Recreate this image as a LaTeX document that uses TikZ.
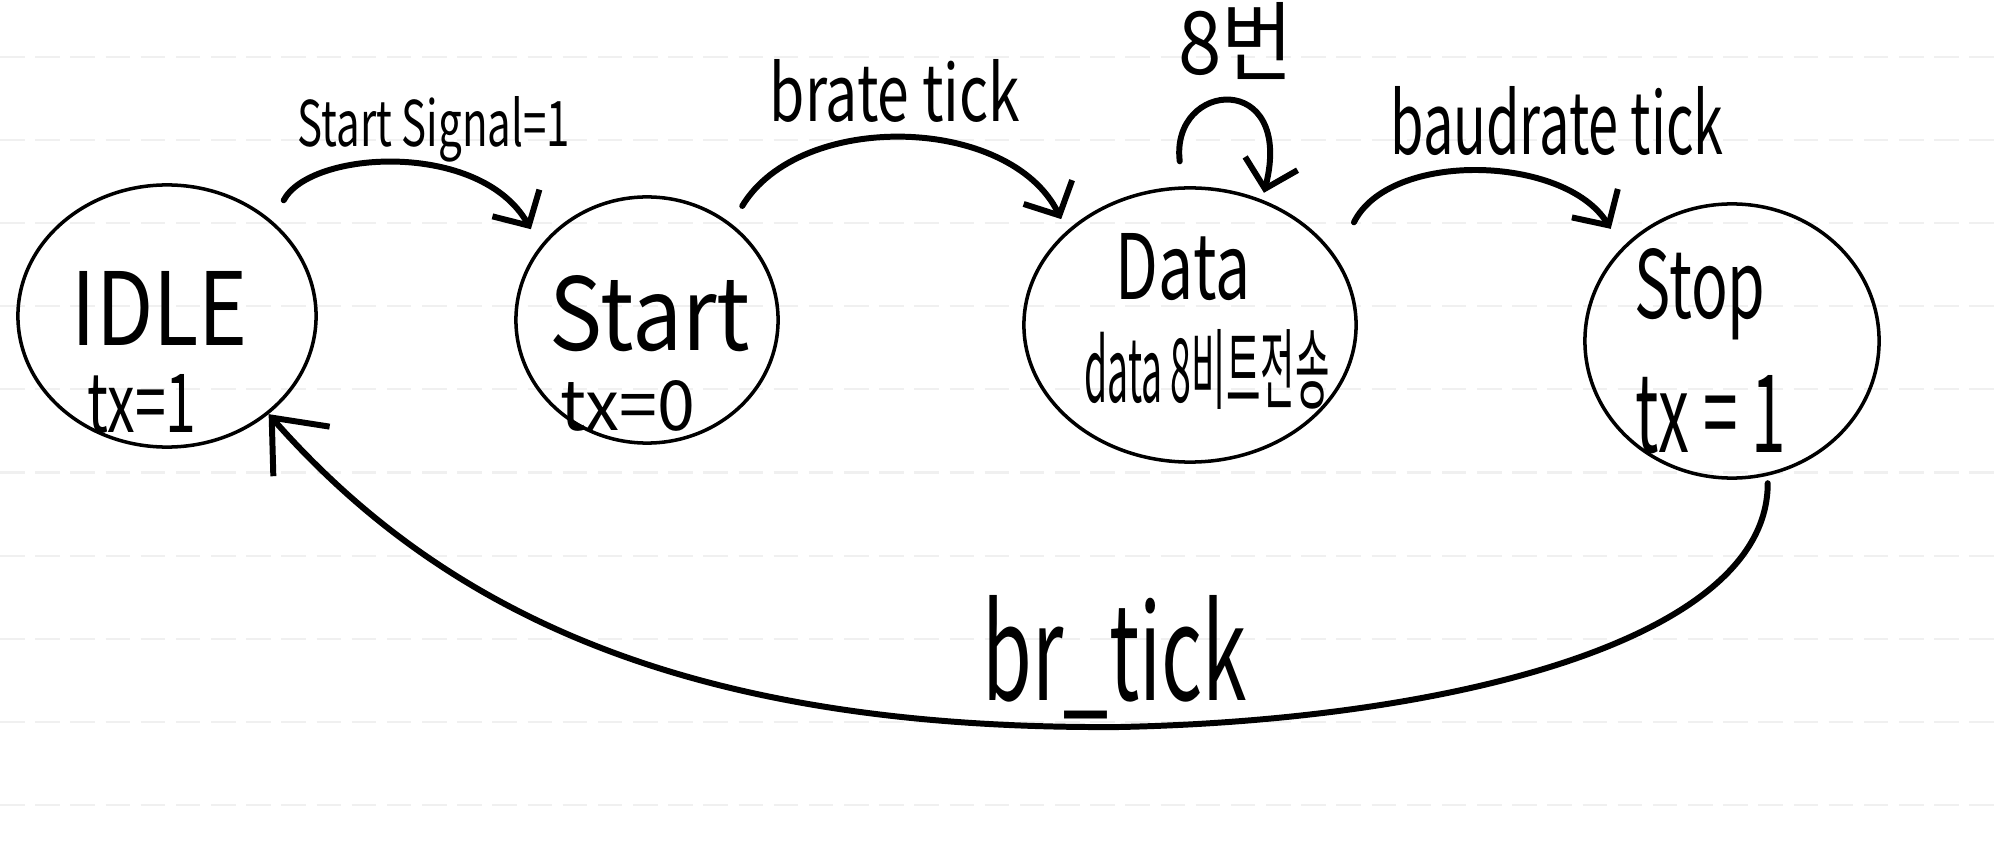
\documentclass[tikz,border=0pt]{standalone}
\usepackage{graphicx}
\usepackage{fontspec}
\setmainfont{Noto Sans CJK KR}
\usetikzlibrary{arrows.meta,shapes.geometric}
\newcommand\hw[3]{\resizebox{#1}{#2}{#3}}
\begin{document}
\begin{tikzpicture}[x=0.01cm,y=-0.01cm,
  state/.style={draw, ellipse, line width=1pt, inner sep=0pt},
  lbl/.style={inner sep=0pt, anchor=base},
  trans/.style={line width=1.7pt, line cap=round, -{Straight Barb[length=2.6mm,width=5.4mm]}},
  transbig/.style={line width=1.7pt, line cap=round, -{Straight Barb[length=4.5mm,width=7.5mm]}},
  paper/.style={gray!12, line width=0.6pt, dash pattern=on 7pt off 3pt}]
\useasboundingbox (0,0) rectangle (2000,861);
\foreach \k in {0,...,9} \draw[paper] (0,{57+83.1*\k}) -- (2000,{57+83.1*\k});

% states
\node[state, minimum width=2.98cm, minimum height=2.62cm] (idle) at (167,316) {};
\node[state, minimum width=2.62cm, minimum height=2.46cm] (start) at (647,320) {};
\node[state, minimum width=3.32cm, minimum height=2.74cm] (data) at (1190,325) {};
\node[state, minimum width=2.94cm, minimum height=2.74cm] (stop) at (1732,341) {};

% state texts
\node[lbl] (idleT) at (160,346) {\hw{1.76cm}{0.74cm}{IDLE}};
\node[lbl] (idleTx) at (142,433) {\hw{1.09cm}{0.58cm}{tx=1}};
\node[lbl] (startT) at (650,351) {\hw{2.0cm}{0.75cm}{Start}};
\node[lbl] (startTx) at (628,430) {\hw{1.34cm}{0.5cm}{tx=0}};
\node[lbl] (dataT) at (1183,300) {\hw{1.34cm}{0.66cm}{Data}};
\node[lbl] (dataTx) at (1207,403) {\hw{2.45cm}{0.73cm}{data 8비트전송}};
\node[lbl] (stopT) at (1700,319) {\hw{1.31cm}{0.70cm}{Stop}};
\node[lbl] (stopTx) at (1711,453) {\hw{1.5cm}{0.77cm}{tx = 1}};

% transition labels
\node[lbl] (l1) at (434,147) {\hw{2.72cm}{0.5cm}{Start Signal=1}};
\node[lbl] (l2) at (895,122) {\hw{2.5cm}{0.62cm}{brate tick}};
\node[lbl] (l3) at (1236,75) {\hw{1.15cm}{0.72cm}{8번}};
\node[lbl] (l4) at (1557,155) {\hw{3.33cm}{0.68cm}{baudrate tick}};
\node[lbl] (l5) at (1115,700) {\hw{2.64cm}{1.05cm}{br\_tick}};

% transitions
\draw[trans] ([shift={(17,-16)}]idle.45) .. controls (310,150) and (480,140) .. ([shift={(-14,-11)}]start.142);
\draw[trans] ([shift={(13,-16)}]start.50) .. controls (800,110) and (1010,115) .. ([shift={(-11,-7)}]data.140);
\draw[trans] ([shift={(-3,-25)}]data.93) .. controls (1170,80) and (1295,70) .. ([shift={(4,-6)}]data.61);
\draw[trans] ([shift={(30,-19)}]data.32) .. controls (1390,150) and (1565,155) .. ([shift={(-16,-14)}]stop.137);
\draw[transbig] ([shift={(2,7)}]stop.-76) .. controls (1768,640) and (1450,720) .. (1120,727)
   .. controls (700,730) and (450,620) .. (idle.-44);
\end{tikzpicture}
\end{document}
